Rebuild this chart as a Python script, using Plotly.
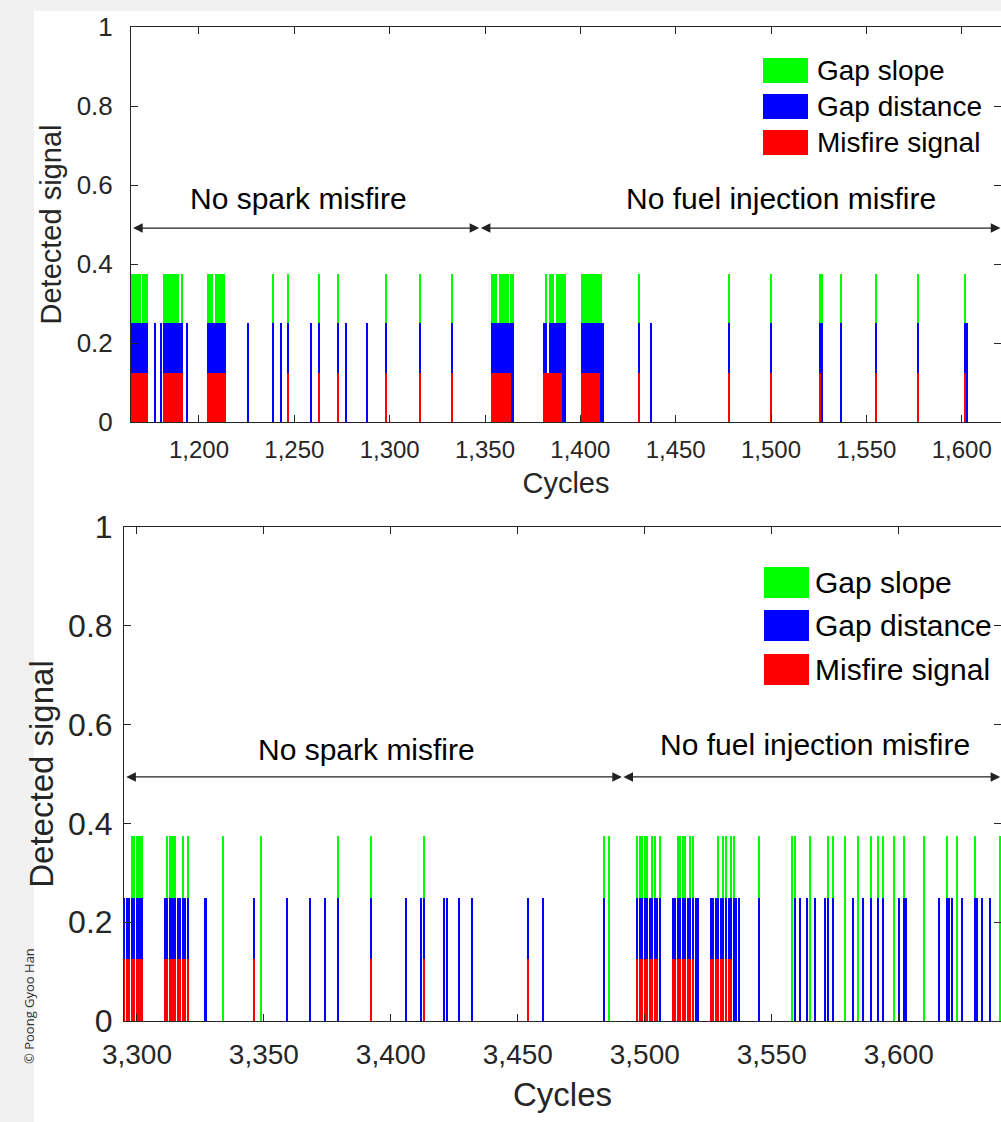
import plotly.graph_objects as go

# ---------------- data ----------------
series_names = ["Gap slope", "Gap distance", "Misfire signal"]
series_colors = ["#00ff00", "#0000ff", "#ff0000"]
# detected-signal level of each indicator
gap_slope_level = 0.375
gap_distance_level = 0.25
misfire_level = 0.125

# top panel (cycles ~1164-1620)
top_gap_slope = [1165, 1166, 1167, 1168, 1169, 1171, 1172, 1173,
                 1182, 1183, 1184, 1185, 1186, 1187, 1188, 1189, 1191,
                 1205, 1206, 1207, 1209, 1210, 1211, 1212, 1213,
                 1239, 1247, 1263, 1273, 1298, 1316, 1333,
                 1354, 1355, 1356, 1358, 1359, 1360, 1361, 1362, 1364, 1365,
                 1382, 1384, 1385, 1386, 1388, 1389, 1390, 1391, 1392,
                 1401, 1402, 1403, 1404, 1405, 1406, 1407, 1408, 1409, 1410, 1411,
                 1431, 1478, 1500, 1526, 1527, 1537, 1555, 1577, 1602]
top_gap_distance = [1165, 1166, 1167, 1168, 1169, 1170, 1171, 1172, 1173,
                    1177, 1180,
                    1182, 1183, 1184, 1185, 1186, 1187, 1188, 1189, 1190, 1191, 1194,
                    1205, 1206, 1207, 1208, 1209, 1210, 1211, 1212, 1213, 1214,
                    1226, 1239, 1243, 1247, 1259, 1263, 1273, 1277, 1288, 1298, 1316, 1333,
                    1354, 1355, 1356, 1357, 1358, 1359, 1360, 1361, 1362, 1363, 1364, 1365,
                    1381, 1382, 1384, 1385, 1386, 1387, 1388, 1389, 1390, 1391, 1392,
                    1401, 1402, 1403, 1404, 1405, 1406, 1407, 1408, 1409, 1410, 1411, 1412,
                    1431, 1437, 1478, 1500, 1526, 1527, 1537, 1555, 1577, 1602, 1603]
top_misfire = [1165, 1166, 1167, 1168, 1169, 1170, 1171, 1172, 1173,
               1182, 1183, 1184, 1185, 1186, 1187, 1188, 1189, 1190, 1191,
               1205, 1206, 1207, 1208, 1209, 1210, 1211, 1212, 1213, 1214,
               1247, 1263, 1273, 1298, 1316, 1333,
               1354, 1355, 1356, 1357, 1358, 1359, 1360, 1361, 1362, 1363,
               1381, 1382, 1383, 1384, 1385, 1386, 1387, 1388, 1389, 1390,
               1401, 1402, 1403, 1404, 1405, 1406, 1407, 1408, 1409, 1410,
               1431, 1478, 1500, 1526, 1555, 1577, 1602]

# bottom panel (cycles ~3295-3640)
bottom_gap_slope = [3298, 3299, 3300, 3301, 3302,
                    3312, 3313, 3314, 3315, 3318, 3320,
                    3334, 3349, 3379, 3392, 3413, 3484, 3486,
                    3497, 3498, 3499, 3500, 3501, 3503, 3504, 3506,
                    3513, 3514, 3515, 3516, 3518, 3519,
                    3529, 3531, 3532, 3534, 3535,
                    3545, 3558, 3559, 3565, 3572, 3574, 3579, 3584, 3589, 3592, 3594,
                    3598, 3602, 3610, 3619, 3623, 3630, 3640]
bottom_gap_distance = [3295, 3296, 3297, 3298, 3299, 3300, 3301, 3302,
                       3311, 3312, 3313, 3314, 3315, 3316, 3317, 3318, 3319, 3320,
                       3327, 3346, 3359, 3368, 3374, 3379, 3392, 3406, 3412, 3413,
                       3421, 3422, 3427, 3432, 3454, 3460, 3484,
                       3497, 3498, 3499, 3500, 3501, 3502, 3503, 3504, 3505, 3506,
                       3511, 3512, 3513, 3514, 3515, 3516, 3517, 3518, 3519, 3520, 3521,
                       3526, 3527, 3528, 3529, 3530, 3531, 3532, 3533, 3534, 3535, 3536, 3537,
                       3545, 3559, 3561, 3564, 3567, 3571, 3572, 3574, 3582, 3586, 3589,
                       3592, 3594, 3600, 3602, 3603, 3616, 3619, 3620, 3621, 3625,
                       3630, 3631, 3633, 3636]
bottom_misfire = [3295, 3296, 3297, 3298, 3299, 3300, 3301, 3302,
                  3311, 3312, 3313, 3314, 3315, 3316, 3317, 3318, 3319, 3320,
                  3346, 3392, 3413, 3454,
                  3497, 3498, 3499, 3500, 3501, 3502, 3503, 3504, 3505,
                  3511, 3512, 3513, 3514, 3515, 3516, 3517, 3518, 3519,
                  3526, 3527, 3528, 3529, 3530, 3531, 3532, 3533, 3534]

top_xticks = [1200, 1250, 1300, 1350, 1400, 1450, 1500, 1550, 1600]
bottom_xticks = [3300, 3350, 3400, 3450, 3500, 3550, 3600]
y_ticks = [0, 0.2, 0.4, 0.6, 0.8, 1]
region_labels = ["No spark misfire", "No fuel injection misfire"]
top_xrange = [1164.35, 1620.6]
bottom_xrange = [3294.9, 3640.3]
top_boundary = 1347      # change of misfire mode
bottom_boundary = 3491

# ---------------- figure ----------------
W, H = 1001, 1122
FONT = "Liberation Sans, Arial, Helvetica, sans-serif"
AX = "#262626"


def px(x):
    return x / W


def py(y):
    return 1 - y / H


fig = go.Figure()
panels = [
    ("x", "y", [top_gap_slope, top_gap_distance, top_misfire]),
    ("x2", "y2", [bottom_gap_slope, bottom_gap_distance, bottom_misfire]),
]
levels = [gap_slope_level, gap_distance_level, misfire_level]
for xa, ya, groups in panels:
    for name, color, cycles, lvl in zip(series_names, series_colors, groups, levels):
        fig.add_trace(go.Bar(
            x=cycles, y=[lvl] * len(cycles), name=name,
            marker=dict(color=color, line=dict(width=0)),
            width=0.8, xaxis=xa, yaxis=ya, showlegend=False,
        ))

axis_common = dict(showline=True, linecolor=AX, linewidth=1, mirror="ticks",
                   ticks="inside", ticklen=7, tickcolor=AX, tickwidth=1,
                   showgrid=False, zeroline=False)

fig.update_layout(
    width=W, height=H, margin=dict(l=0, r=0, t=0, b=0),
    paper_bgcolor="#f1f1f1", plot_bgcolor="white",
    barmode="overlay", bargap=0, showlegend=False,
    font=dict(family=FONT, color="#262626"),
    xaxis=dict(domain=[px(131), 1], range=top_xrange, anchor="y",
               tickvals=top_xticks, tickformat=",d",
               tickfont=dict(size=24, color="#262626"), ticklabelstandoff=6,
               title=dict(text="Cycles", font=dict(size=29), standoff=10),
               automargin=False, **axis_common),
    yaxis=dict(domain=[py(422), py(27)], range=[0, 1], anchor="x",
               tickvals=y_ticks,
               tickfont=dict(size=26, color="#262626"), ticklabelstandoff=12,
               title=dict(text="Detected signal", font=dict(size=29), standoff=6),
               automargin=False, **axis_common),
    xaxis2=dict(domain=[px(124), 1], range=bottom_xrange, anchor="y2",
                tickvals=bottom_xticks, tickformat=",d",
                tickfont=dict(size=28, color="#262626"), ticklabelstandoff=8,
                title=dict(text="Cycles", font=dict(size=33), standoff=14),
                automargin=False, **axis_common),
    yaxis2=dict(domain=[py(1021), py(527)], range=[0, 1], anchor="x2",
                tickvals=y_ticks,
                tickfont=dict(size=32, color="#262626"), ticklabelstandoff=4,
                title=dict(text="Detected signal", font=dict(size=33), standoff=4),
                automargin=False, **axis_common),
)

shapes = [
    # page card
    dict(type="rect", xref="paper", yref="paper", x0=px(35), x1=1.01, y0=-0.01, y1=py(12),
         fillcolor="#e2e2e2", line=dict(width=0), layer="below"),
    dict(type="rect", xref="paper", yref="paper", x0=px(34), x1=1.01, y0=-0.01, y1=py(11),
         fillcolor="white", line=dict(width=0), layer="below"),
]

# custom legends (large swatches)
legend_specs = [
    # (swatch x0, x1, [row tops], swatch height, text x, font size)
    (763, 808, [58, 94, 130], 25, 815, 28),
    (764, 809, [567, 610, 654], 31, 813, 30),
]
annotations = []
for x0, x1, tops, h, tx, fs in legend_specs:
    for name, color, top in zip(series_names, series_colors, tops):
        shapes.append(dict(type="rect", xref="paper", yref="paper",
                           x0=px(x0), x1=px(x1), y0=py(top + h), y1=py(top),
                           fillcolor=color, line=dict(width=0)))
        annotations.append(dict(text=name, xref="paper", yref="paper",
                                x=px(tx), y=py(top + h / 2), xanchor="left", yanchor="middle",
                                showarrow=False, font=dict(size=fs, color="black")))

# region labels and double arrows
region_specs = [
    ("x", "y", top_xrange, top_boundary, [(1252, 0.565), (1505, 0.565)], 0.491),
    ("x2", "y2", bottom_xrange, bottom_boundary, [(3390.5, 0.549), (3567, 0.559)], 0.494),
]
for xr, yr, rng, bnd, label_pos, ay in region_specs:
    for lbl, (lx, ly) in zip(region_labels, label_pos):
        annotations.append(dict(text=lbl, xref=xr, yref=yr, x=lx, y=ly,
                                showarrow=False, font=dict(size=30, color="black")))
    for a, b in [(rng[0] + 0.3, bnd), (bnd, rng[1] - 0.3)]:
        annotations.append(dict(text="", xref=xr, yref=yr, x=b, y=ay,
                                axref=xr, ayref=yr, ax=a, ay=ay,
                                showarrow=True, arrowside="end+start",
                                arrowhead=2, startarrowhead=2,
                                arrowsize=1.6, startarrowsize=1.6, arrowwidth=1.2,
                                arrowcolor="#222222", standoff=0, startstandoff=0))

annotations.append(dict(text="© Poong Gyoo Han", xref="paper", yref="paper",
                        x=px(18), y=py(1066), textangle=-90, showarrow=False,
                        font=dict(size=13, color="#333333", family="Open Sans, sans-serif")))

fig.update_layout(shapes=shapes, annotations=annotations)
fig.write_html("out.html")
